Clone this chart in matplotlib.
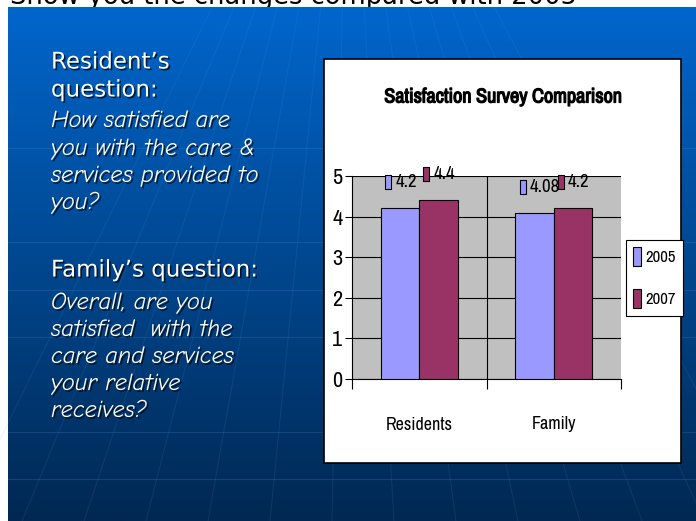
import numpy as np
import matplotlib
matplotlib.use("Agg")
import matplotlib.pyplot as plt
from matplotlib.patches import Rectangle
import matplotlib.patheffects as pe
from matplotlib.transforms import ScaledTranslation

W, H = 696, 521

# chart data
categories = ["Residents", "Family"]
years = ["2005", "2007"]
scores_2005 = [4.2, 4.08]
scores_2007 = [4.4, 4.2]
labels_2005 = ["4.2", "4.08"]
labels_2007 = ["4.4", "4.2"]
bar_colors = ["#9999FF", "#993366"]
yticks = [0, 1, 2, 3, 4, 5]
chart_title = "Satisfaction Survey Comparison"

# slide text (line, y position in px, style)
slide_lines = [
    ("Resident\u2019s", 62, "normal"),
    ("question:", 90, "normal"),
    ("How satisfied are", 121, "italic"),
    ("you with the care &", 149, "italic"),
    ("services provided to", 176, "italic"),
    ("you?", 203, "italic"),
    ("Family\u2019s question:", 270, "normal"),
    ("Overall, are you", 303, "italic"),
    ("satisfied  with the", 330, "italic"),
    ("care and services", 357, "italic"),
    ("your relative", 384, "italic"),
    ("receives?", 411, "italic"),
]
top_text = "Show you the changes compared with 2005"

narrow = ["Archivo Narrow", "Roboto Condensed", "PT Sans Narrow", "DejaVu Sans"]
comic = ["Comic Neue", "Comic Relief", "DejaVu Sans"]

fig = plt.figure(figsize=(W / 100, H / 100), dpi=100)
fig.patch.set_facecolor("white")

# background axes in pixel coordinates
bg = fig.add_axes([0, 0, 1, 1])
bg.set_xlim(0, W)
bg.set_ylim(H, 0)
bg.axis("off")

# cut-off title of the slide above
bg.text(10, 4, top_text, fontsize=18.5, color="black", va="baseline", zorder=0)

# blue gradient slide
top = np.array([0, 102, 204]) / 255
bottom = np.array([1, 40, 82]) / 255
t = np.linspace(0, 1, 256)[:, None]
grad = top[None, :] * (1 - t) + bottom[None, :] * t
bg.imshow(grad[:, None, :], extent=[8, W, H, 7], aspect="auto", zorder=1)

# faint globe lines
for yy in [148, 242, 290, 337, 432, 479]:
    bg.plot([8, W], [yy, yy], color="#5a9be0", lw=0.8, alpha=0.2, zorder=1.5)
for xb in np.arange(-40, 800, 62):
    bg.plot([348 + (xb - 348) * 0.35, xb], [7, H], color="#5a9be0", lw=0.8,
            alpha=0.12, zorder=1.5)

shadow = [pe.SimplePatchShadow(offset=(1.2, -1.2), shadow_rgbFace="black", alpha=0.7),
          pe.Normal()]
for line, yy, style in slide_lines:
    if style == "normal":
        bg.text(51, yy, line, color="white", fontsize=16.5, va="center",
                family="DejaVu Sans", path_effects=shadow, zorder=2)
    else:
        bg.text(51, yy, line, color="white", fontsize=17.5, va="center",
                family=comic, style="italic", path_effects=shadow, zorder=2)

# chart box
bg.add_patch(Rectangle((324, 59), 357, 404, fc="white", ec="black", lw=1.2, zorder=3))
bg.text(503, 97, chart_title, ha="center", va="center", fontsize=14.5,
        fontweight="bold", family=narrow, zorder=4,
        path_effects=[pe.withStroke(linewidth=0.9, foreground="black")])

ax = fig.add_axes([352 / W, 1 - 379 / H, 269 / W, 203 / H])
ax.set_facecolor("#C0C0C0")
x = np.arange(len(categories))
w = 0.286
b1 = ax.bar(x - w / 2, scores_2005, w, color=bar_colors[0], edgecolor="black", lw=0.8, zorder=3)
b2 = ax.bar(x + w / 2, scores_2007, w, color=bar_colors[1], edgecolor="black", lw=0.8, zorder=3)
ax.set_xlim(-0.5, 1.5)
ax.set_ylim(0, 5)
ax.set_yticks(yticks)
ax.set_yticklabels([str(v) for v in yticks], family=narrow, fontsize=16)
ax.yaxis.grid(True, color="black", lw=0.8)
ax.set_axisbelow(True)
ax.axvline(0.5, color="black", lw=0.8, zorder=1)
ax.set_xticks([-0.5, 0.5, 1.5])
ax.set_xticklabels([])
ax.set_xticks(x, minor=True)
ax.set_xticklabels(categories, minor=True, family=narrow, fontsize=13)
ax.tick_params(axis="x", which="major", length=7, direction="out")
ax.tick_params(axis="x", which="minor", length=0, pad=27)
ax.tick_params(axis="y", length=5, direction="out", pad=2)
for s in ["top", "right"]:
    ax.spines[s].set_visible(False)

# data labels with legend keys
key = [(-1, -2), (1, -2), (1, 2), (-1, 2), (-1, -2)]
for bars, vals, labs, col in [(b1, scores_2005, labels_2005, bar_colors[0]),
                              (b2, scores_2007, labels_2007, bar_colors[1])]:
    for bar, v, lab in zip(bars, vals, labs):
        xc = bar.get_x() + bar.get_width() / 2
        ax.annotate(lab, xy=(xc, v), xytext=(-3.5, 19), textcoords="offset points",
                    ha="left", va="center", family=narrow, fontsize=13.5,
                    annotation_clip=False)
        off = ScaledTranslation(-0.12, 0.26, fig.dpi_scale_trans)
        ax.plot([xc], [v], marker=key, ms=10, mfc=col, mec="black", mew=0.8,
                ls="none", transform=ax.transData + off, clip_on=False, zorder=5)

leg = ax.legend([b1, b2], years, loc="center", bbox_to_anchor=(654.5 / W, 1 - 277.5 / H),
                bbox_transform=fig.transFigure, handlelength=0.5, handleheight=1.4,
                handletextpad=0.25, labelspacing=1.35, borderpad=0.45, borderaxespad=0,
                fancybox=False, edgecolor="black", framealpha=1,
                prop={"family": narrow, "size": 12})
leg.get_frame().set_linewidth(0.8)

fig.savefig("out.png", dpi=100)
